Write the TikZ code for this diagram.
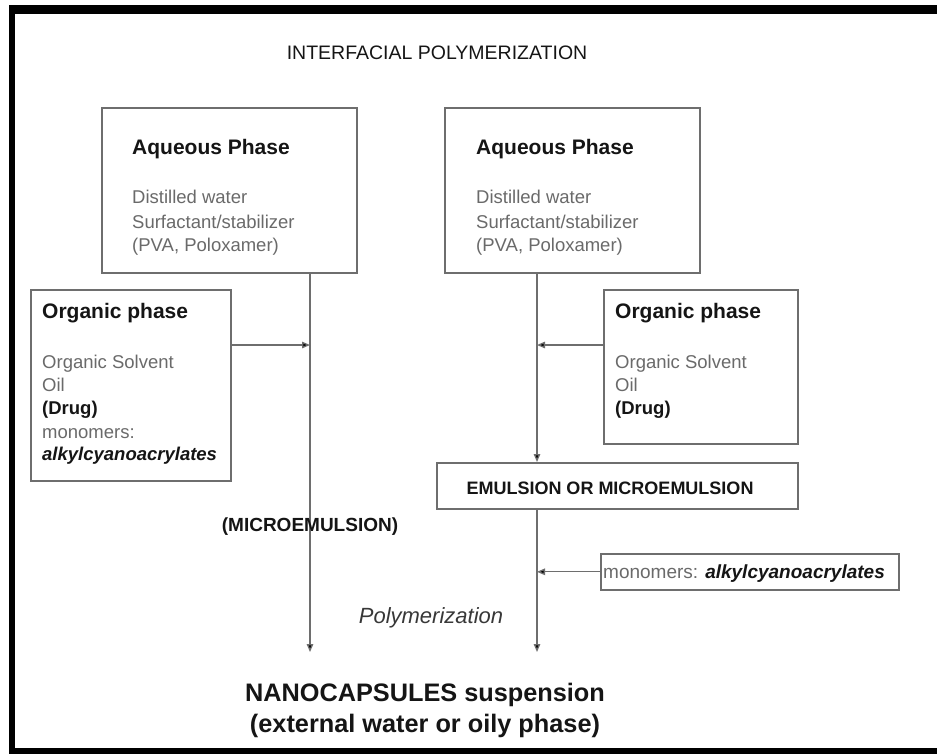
\documentclass[tikz,border=0pt]{standalone}
\usepackage{fontspec}
\setmainfont{Liberation Sans}
\usetikzlibrary{arrows.meta}
\definecolor{boxline}{HTML}{6E6E6E}
\definecolor{graytxt}{HTML}{6A6A6A}
\definecolor{darktxt}{HTML}{151515}
\newcommand{\fs}[1]{\fontsize{#1}{#1}\selectfont}
\tikzset{
  phasebox/.style={draw=boxline, line width=1.6pt, inner sep=0pt, anchor=north west, fill=white},
  txt/.style={inner sep=0pt, anchor=base west},
  headtxt/.style={txt, font=\fs{21}\bfseries, text=darktxt},
  graytext/.style={txt, font=\fs{18.5}, text=graytxt},
  blacktext/.style={txt, font=\fs{18.5}\bfseries, text=darktxt},
  flow/.style={draw=boxline, line width=1.3pt, -{Triangle[length=8pt,width=6.5pt,fill=black]}},
}
\begin{document}
\begin{tikzpicture}[x=1pt,y=-1pt]
\useasboundingbox (0,0) rectangle (937,753);
\fill[white] (0,0) rectangle (937,753);
% frame
\draw[black, line width=9pt] (9,9.5) -- (937,9.5);
\draw[black, line width=6pt] (12,5) -- (12,753);
\draw[black, line width=6pt] (9,750.5) -- (937,750.5);
% title
\node[inner sep=0pt, font=\fs{19.5}, text=darktxt] (title) at (437,53) {INTERFACIAL POLYMERIZATION};
% boxes
\node[phasebox, minimum width=255pt, minimum height=165pt] (aq1) at (101,107) {};
\node[phasebox, minimum width=255pt, minimum height=165pt] (aq2) at (444,107) {};
\node[phasebox, minimum width=200pt, minimum height=191pt] (org1) at (30,289) {};
\node[phasebox, minimum width=194pt, minimum height=154pt] (org2) at (603,289) {};
\node[phasebox, minimum width=361pt, minimum height=46pt] (emul) at (436,462) {};
\node[phasebox, minimum width=298pt, minimum height=36pt] (mono) at (600,553) {};
% aqueous left text
\node[headtxt] (aq1h) at (132,154.5) {Aqueous Phase};
\node[graytext] (aq1a) at (132,203.5) {Distilled water};
\node[graytext] (aq1b) at (132,228) {Surfactant/stabilizer};
\node[graytext] (aq1c) at (132,251.5) {(PVA, Poloxamer)};
% aqueous right text
\node[headtxt] (aq2h) at (476,154.5) {Aqueous Phase};
\node[graytext] (aq2a) at (476,203.5) {Distilled water};
\node[graytext] (aq2b) at (476,228) {Surfactant/stabilizer};
\node[graytext] (aq2c) at (476,251.5) {(PVA, Poloxamer)};
% organic left text
\node[headtxt] (o1h) at (42,318) {Organic phase};
\node[graytext] (o1a) at (42,368.5) {Organic Solvent};
\node[graytext] (o1b) at (42,391.5) {Oil};
\node[blacktext] (o1c) at (42,414.5) {(Drug)};
\node[graytext] (o1d) at (42,438) {monomers:};
\node[blacktext, font=\fs{18.5}\bfseries\itshape] (o1e) at (42,460) {alkylcyanoacrylates};
% organic right text
\node[headtxt] (o2h) at (615,318) {Organic phase};
\node[graytext] (o2a) at (615,368.5) {Organic Solvent};
\node[graytext] (o2b) at (615,391.5) {Oil};
\node[blacktext] (o2c) at (615,414.5) {(Drug)};
% emulsion text
\node[inner sep=0pt, font=\fs{18}\bfseries, text=darktxt] (emt) at (610,488) {EMULSION OR MICROEMULSION};
% monomers text
\node[txt, font=\fs{19}, text=graytxt] (mt) at (603,578) {monomers: \textcolor{darktxt}{\bfseries\itshape alkylcyanoacrylates}};
% connector points
\coordinate (endL) at (310,652);
\coordinate (endR) at (537,652);
\coordinate (jL) at (310,345);
\coordinate (jR) at (537,345);
% connectors
\draw[flow] (aq1.south -| endL) -- (endL);
\draw[flow] (org1.east |- jL) -- (jL);
\draw[flow] (aq2.south -| jR) -- (emul.north -| jR);
\draw[flow] (org2.west |- jR) -- (jR);
\draw[flow] (emul.south -| endR) -- (endR);
\draw[flow] (mono.west) -- (mono.west -| endR);
% other labels
\node[inner sep=0pt, font=\fs{19}\bfseries, text=darktxt] (micro) at (310,527) {(MICROEMULSION)};
\node[inner sep=0pt, font=\fs{22}\itshape, text=darktxt!85] (poly) at (431,618) {Polymerization};
\node[inner sep=0pt, font=\fs{25.3}\bfseries, text=darktxt] (nano1) at (425,695) {NANOCAPSULES suspension};
\node[inner sep=0pt, font=\fs{25.3}\bfseries, text=darktxt] (nano2) at (425,726) {(external water or oily phase)};
\end{tikzpicture}
\end{document}
